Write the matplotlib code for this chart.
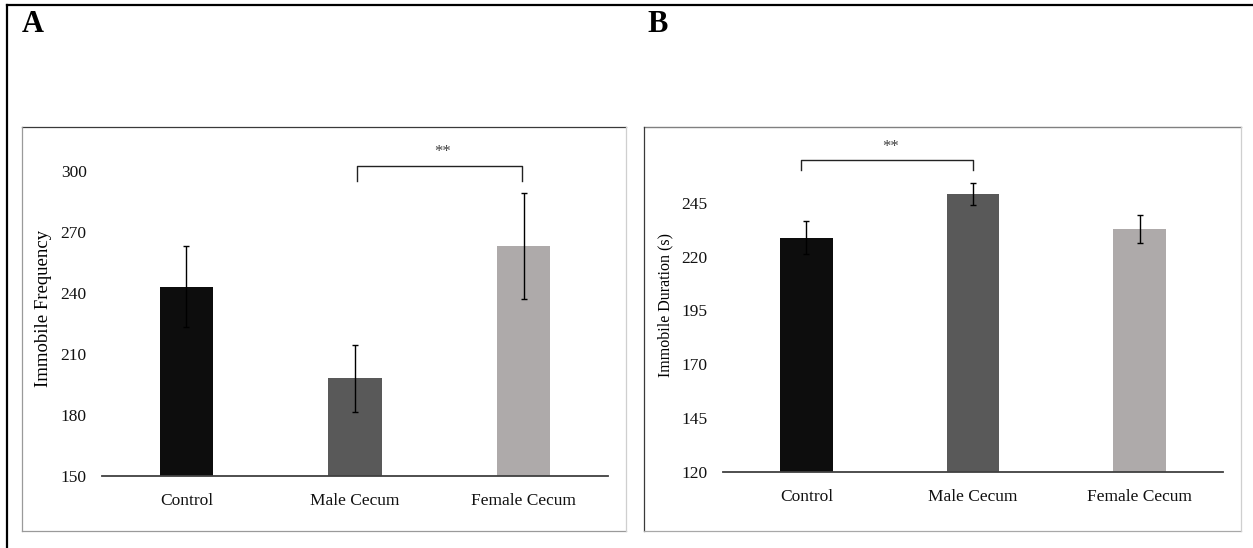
import matplotlib.pyplot as plt
from matplotlib.lines import Line2D

plt.rcParams['font.family'] = ['Liberation Serif', 'DejaVu Serif']

groups = ["Control", "Male Cecum", "Female Cecum"]
colors = ["#0d0d0d", "#595959", "#aeaaaa"]

freq_mean = [243, 198, 263]
freq_err = [20, 16.5, 26]

dur_mean = [228.8, 249.0, 232.6]
dur_err = [7.6, 5.3, 6.5]

W, H = 1253, 548
fig = plt.figure(figsize=(W / 100, H / 100), dpi=100)


def fx(px):
    return px / W


def fy(py):
    return 1 - py / H


def fline(x0, y0, x1, y1, color, lw):
    fig.add_artist(Line2D([fx(x0), fx(x1)], [fy(y0), fy(y1)],
                          color=color, lw=lw, transform=fig.transFigure))


# outer border (top and left only, the image is cropped)
fline(7, 5, W, 5, "black", 1.6)
fline(7, 5, 7, H, "black", 1.6)

# panel frames
fline(22, 127, 626, 127, "#3a3a3a", 0.9)
fline(22, 127, 22, 531, "#9a9a9a", 0.9)
fline(22, 531, 626, 531, "#9a9a9a", 0.9)
fline(626, 127, 626, 531, "#cfcfcf", 0.9)

fline(644, 127, 1241, 127, "#808080", 1.0)
fline(644, 127, 644, 531, "#3a3a3a", 0.9)
fline(644, 531, 1241, 531, "#a8a8a8", 0.9)
fline(1241, 127, 1241, 531, "#cfcfcf", 0.9)

fig.text(fx(22), fy(25), "A", fontsize=22, fontweight="bold", va="center", ha="left")
fig.text(fx(647), fy(25), "B", fontsize=22, fontweight="bold", va="center", ha="left")


def panel(rect_px, means, errs, ylim, yticks, ylabel, ylabel_size, sig):
    left, right, bottom, top = rect_px
    ax = fig.add_axes([fx(left), fy(bottom), fx(right) - fx(left), (bottom - top) / H])
    x = range(len(groups))
    ax.bar(x, means, width=0.317, color=colors, zorder=2)
    ax.errorbar(x, means, yerr=errs, fmt="none", ecolor="black",
                elinewidth=1.0, capsize=2.5, capthick=1.0, zorder=3)
    ax.set_xlim(-0.5, 2.5)
    ax.set_ylim(*ylim)
    ax.set_yticks(yticks)
    ax.set_xticks(list(x))
    ax.set_xticklabels(groups)
    ax.tick_params(axis="both", length=0, labelsize=12.5, colors="#111111")
    ax.tick_params(axis="y", pad=11)
    ax.tick_params(axis="x", pad=12)
    for s in ["top", "right", "left"]:
        ax.spines[s].set_visible(False)
    ax.spines["bottom"].set_color("#404040")
    ax.spines["bottom"].set_linewidth(1.3)
    ax.set_ylabel(ylabel, fontsize=ylabel_size, labelpad=6)
    ax.patch.set_alpha(0)

    x0, x1, ylow, yhigh, ystar = sig
    ax.plot([x0, x0, x1, x1], [ylow, yhigh, yhigh, ylow], color="#222222",
            lw=1.0, solid_joinstyle="round", clip_on=False)
    ax.text((x0 + x1) / 2 + 0.02, ystar, "**", ha="center", va="center",
            fontsize=12, color="#404040", clip_on=False)
    return ax


panel((102, 608, 476, 140), freq_mean, freq_err, (150, 315),
      [150, 180, 210, 240, 270, 300], "Immobile Frequency", 13.5,
      (1.01, 1.99, 294.8, 302.2, 309))

panel((723, 1223, 472, 138), dur_mean, dur_err, (120, 275),
      [120, 145, 170, 195, 220, 245], "Immobile Duration (s)", 11.5,
      (-0.03, 1.0, 260.0, 264.7, 271))

fig.savefig("out.png", dpi=100, facecolor="w")
